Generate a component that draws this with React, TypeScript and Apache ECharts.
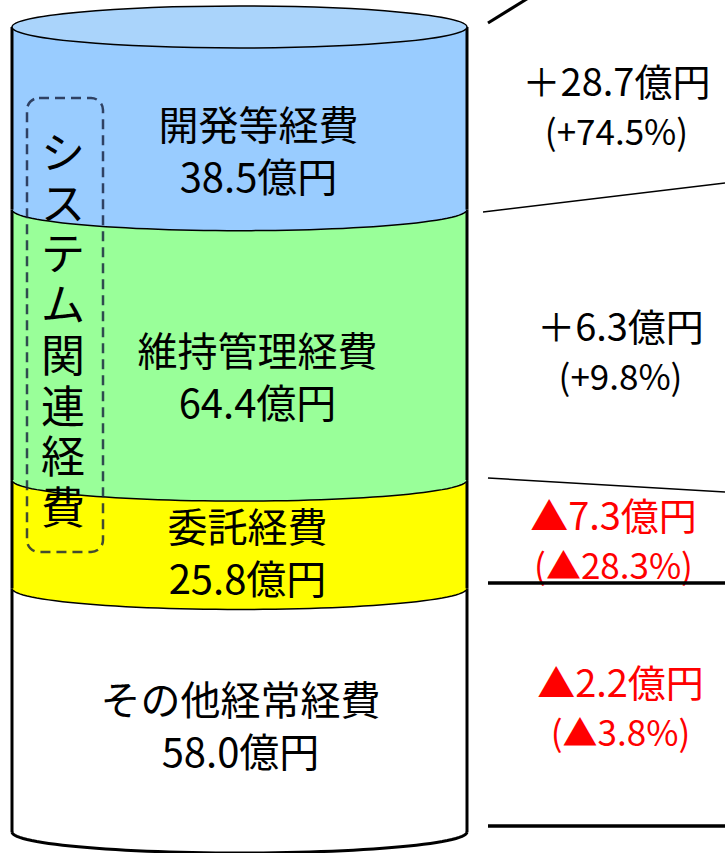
import React, { useEffect, useRef } from "react";
import * as echarts from "echarts";

// ---- data (bottom to top) ----
const categories = ["その他経常経費", "委託経費", "維持管理経費", "開発等経費"];
const amounts = [58.0, 25.8, 64.4, 38.5];
const changeAmounts = [-2.2, -7.3, 6.3, 28.7];
const changeRates = [-3.8, -28.3, 9.8, 74.5];
const groupLabel = "システム関連経費";
const unit = "億円";

// ---- styles ----
const fills = ["#FFFFFF", "#FFFF00", "#99FF99", "#99CCFF"];
const topFaceColor = "#AAD4FB";
const FONT = '"Noto Sans CJK JP", "Noto Sans CJK SC", sans-serif';
const labelDx = [1, 8, 18, 19];
const labelDy = [14, 17, 30, 20];
const noteDx = [381, 374, 381, 377];
const noteDy = [-5, 4, 5, -24];

const total = amounts.reduce((a, b) => a + b, 0);
const starts: number[] = [];
amounts.reduce((acc, v, i) => {
  starts[i] = acc;
  return acc + v;
}, 0);
const seriesData = amounts.map((v, i) => [0, starts[i], starts[i] + v]);

function fmt(v: number) {
  return Math.abs(v).toFixed(1);
}

export default function App() {
  const ref = useRef<HTMLDivElement>(null);
  useEffect(() => {
    if (!ref.current) return;
    const chart = echarts.init(ref.current, undefined, { renderer: "svg" });
    const RY = 21;
    const renderItem = (params: any, api: any) => {
      const i = params.dataIndex;
      const n = amounts.length;
      const isTop = i === n - 1;
      const p0 = api.coord([0, api.value(1)]);
      const p1 = api.coord([0, api.value(2)]);
      const w = api.size([1, 0])[0];
      const cx = p0[0];
      const rx = w / 2;
      const L = cx - rx;
      const R = cx + rx;
      const yb = p0[1];
      const yt = isTop ? p1[1] - RY : p1[1];
      const N = 60;
      const lower = (yc: number, reverse: boolean) => {
        const pts: number[][] = [];
        for (let k = 0; k <= N; k++) {
          const t = reverse ? (k / N) * Math.PI : Math.PI - (k / N) * Math.PI;
          pts.push([cx + rx * Math.cos(t), yc + RY * Math.sin(t)]);
        }
        return pts;
      };
      const poly = lower(yt, false).concat(lower(yb, true));
      const children: any[] = [
        {
          type: "polygon",
          shape: { points: poly },
          style: { fill: fills[i], stroke: "none" },
        },
        {
          type: "polyline",
          shape: { points: lower(yb, false) },
          style: { stroke: "#000", lineWidth: i === 0 ? 3 : 1.5, fill: "none" },
        },
        {
          type: "line",
          shape: { x1: L, y1: yb, x2: L, y2: yt },
          style: { stroke: "#000", lineWidth: 3 },
        },
        {
          type: "line",
          shape: { x1: R, y1: yb, x2: R, y2: yt },
          style: { stroke: "#000", lineWidth: 3 },
        },
      ];
      if (isTop) {
        children.push({
          type: "ellipse",
          shape: { cx, cy: yt, rx, ry: RY },
          style: { fill: topFaceColor, stroke: "#000", lineWidth: 1.5 },
        });
      }
      const mid = (p0[1] + p1[1]) / 2;
      children.push({
        type: "text",
        x: cx + labelDx[i],
        y: mid + labelDy[i],
        style: {
          text: categories[i] + "\n" + amounts[i].toFixed(1) + unit,
          fontSize: 40,
          lineHeight: 52,
          fontFamily: FONT,
          fill: "#000",
          align: "center",
          verticalAlign: "middle",
        },
      });
      const neg = changeAmounts[i] < 0;
      const color = neg ? "#FF0000" : "#000000";
      const line1 = (neg ? "▲" : "＋") + fmt(changeAmounts[i]) + unit;
      const line2 = "(" + (neg ? "▲" : "+") + fmt(changeRates[i]) + "%)";
      const ny = mid + noteDy[i];
      children.push({
        type: "text",
        x: cx + noteDx[i],
        y: ny - 25,
        style: {
          text: line1,
          fontSize: 38,
          fontFamily: FONT,
          fill: color,
          align: "center",
          verticalAlign: "middle",
        },
      });
      children.push({
        type: "text",
        x: cx + noteDx[i],
        y: ny + 25,
        style: {
          text: line2,
          fontSize: 35,
          fontFamily: FONT,
          fill: color,
          align: "center",
          verticalAlign: "middle",
        },
      });
      return { type: "group", children };
    };

    const chars = groupLabel.split("");
    const pitch = 50.7;
    const firstY = 150;
    const verticalText = chars.map((ch, k) => ({
      type: "text",
      x: 63,
      y: firstY + k * pitch,
      style: {
        text: ch,
        fontSize: 44,
        fontFamily: FONT,
        fill: "#000",
        align: "center",
        verticalAlign: "middle",
      },
      z: 10,
    }));

    chart.setOption({
      animation: false,
      backgroundColor: "#FFFFFF",
      grid: { left: 12, width: 455, top: 48, bottom: 21 },
      xAxis: { type: "category", data: ["予算"], show: false },
      yAxis: { type: "value", min: 0, max: total, show: false },
      series: [
        {
          type: "custom",
          renderItem,
          data: seriesData,
          encode: { x: 0, y: [1, 2] },
          clip: false,
        },
      ],
      graphic: [
        {
          type: "rect",
          shape: { x: 27, y: 98, width: 76, height: 454, r: 12 },
          style: {
            fill: "none",
            stroke: "rgba(20,30,60,0.8)",
            lineWidth: 2.5,
            lineDash: [10, 6],
          },
          z: 10,
        },
        ...verticalText,
        { type: "line", shape: { x1: 488, y1: 23, x2: 530, y2: -3 }, style: { stroke: "#000", lineWidth: 3 }, z: 10 },
        { type: "line", shape: { x1: 483, y1: 212, x2: 725, y2: 183 }, style: { stroke: "#000", lineWidth: 1.5 }, z: 10 },
        { type: "line", shape: { x1: 488, y1: 478, x2: 725, y2: 492 }, style: { stroke: "#000", lineWidth: 1.5 }, z: 10 },
        { type: "line", shape: { x1: 488, y1: 583, x2: 725, y2: 583 }, style: { stroke: "#000", lineWidth: 3.5 }, z: 10 },
        { type: "line", shape: { x1: 488, y1: 826, x2: 725, y2: 826 }, style: { stroke: "#000", lineWidth: 3.5 }, z: 10 },
      ],
    });
    return () => chart.dispose();
  }, []);
  return (
    <div
      ref={ref}
      style={{ position: "absolute", left: 0, top: 0, width: 725, height: 853 }}
    />
  );
}
